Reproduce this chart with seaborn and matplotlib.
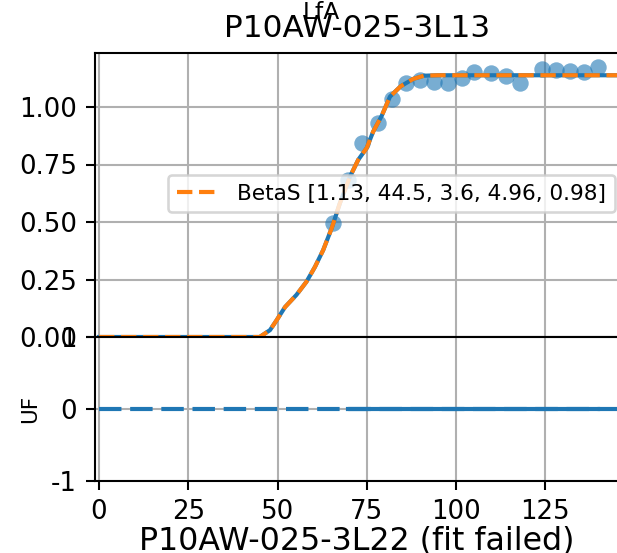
import matplotlib
matplotlib.use("Agg")
import matplotlib.pyplot as plt
import seaborn as sns
import pandas as pd

# ---- data ----
lfa_x = [65.6, 69.8, 73.7, 78.2, 82.0, 86.1, 89.9, 93.9, 97.8, 101.8, 105.0,
         109.8, 114.0, 117.9, 124.0, 127.9, 131.9, 135.8, 139.8]
lfa_y = [0.494, 0.683, 0.842, 0.929, 1.033, 1.103, 1.116, 1.108, 1.103, 1.125,
         1.151, 1.147, 1.135, 1.103, 1.165, 1.161, 1.158, 1.151, 1.175]

fit_x = [0, 45, 47.9, 49.8, 52.1, 55.3, 58.1, 60.5, 62.8, 65.2, 67.5, 70.3,
         72.6, 75.0, 76.8, 79.2, 81.5, 84.5, 88.0, 91.0, 95.0, 150]
fit_y = [0, 0, 0.03, 0.074, 0.13, 0.183, 0.24, 0.305, 0.378, 0.474, 0.583,
         0.697, 0.77, 0.822, 0.893, 0.962, 1.045, 1.09, 1.122, 1.136, 1.138, 1.138]

uf_x = [69.8, 73.7, 78.2, 82.0, 86.1, 89.9, 93.9, 97.8, 101.8, 105.0,
        109.8, 114.0, 117.9, 124.0, 127.9, 131.9, 135.8, 139.8]
uf_y = [0.0] * len(uf_x)
uf_fit_x = [0, 150]
uf_fit_y = [0.0, 0.0]

top_title = "P10AW-025-3L13"
col_title = "LfA"
bottom_xlabel = "P10AW-025-3L22 (fit failed)"
legend_label = "BetaS [1.13, 44.5, 3.6, 4.96, 0.98]"
top_yticks = [0.0, 0.25, 0.5, 0.75, 1.0]
bottom_yticks = [-1, 0, 1]
xticks = [0, 25, 50, 75, 100, 125]

plt.rcParams["axes.unicode_minus"] = False

DPI = 187
W, H = 617, 553
fig = plt.figure(figsize=(W / DPI, H / DPI), dpi=DPI)

left = 95 / W
right = 619 / W
ax1 = fig.add_axes([left, (H - 337) / H, right - left, (337 - 53) / H])
ax2 = fig.add_axes([left, (H - 481) / H, right - left, (481 - 337) / H], sharex=ax1)

blue = "#1f77b4"
orange = "#ff7f0e"

df_pts = pd.DataFrame({"x": lfa_x, "y": lfa_y})
df_fit = pd.DataFrame({"x": fit_x, "y": fit_y})

sns.scatterplot(data=df_pts, x="x", y="y", ax=ax1, color=blue, alpha=0.6,
                s=40, linewidth=0, zorder=2)
sns.lineplot(data=df_fit, x="x", y="y", ax=ax1, color=blue, lw=1.6,
             estimator=None, sort=False, zorder=3)
sns.lineplot(data=df_fit, x="x", y="y", ax=ax1, color=orange, lw=1.6,
             linestyle="--", estimator=None, sort=False, zorder=4,
             label=legend_label)

df_uf = pd.DataFrame({"x": uf_x, "y": uf_y})
df_uff = pd.DataFrame({"x": uf_fit_x, "y": uf_fit_y})
sns.lineplot(data=df_uff, x="x", y="y", ax=ax2, color=blue, lw=1.6,
             dashes=False, estimator=None, sort=False, zorder=3)
ax2.lines[-1].set_dashes((5.4, 2.1))
sns.lineplot(data=df_uf, x="x", y="y", ax=ax2, color=blue, lw=1.6,
             estimator=None, sort=False, zorder=4)

x0 = -4 / 3.57
x1 = (619 - 99) / 3.57
ax1.set_xlim(x0, x1)
ax1.set_ylim(0, (337 - 53) / 230)
ax2.set_ylim(-1, 1)

for ax in (ax1, ax2):
    ax.grid(True, color="#b0b0b0", lw=0.8)
    ax.set_axisbelow(True)
    ax.tick_params(labelsize=10)

ax1.set_yticks(top_yticks)
ax1.set_yticklabels([f"{v:.2f}" for v in top_yticks])
ax1.tick_params(axis="x", labelbottom=False)
ax1.set_xlabel("")
ax1.set_ylabel("")
ax1.set_title(top_title, fontsize=12)

ax2.set_yticks(bottom_yticks)
ax2.set_yticklabels([str(v) for v in bottom_yticks])
ax2.set_xticks(xticks)
ax2.set_xticklabels([str(v) for v in xticks])
ax2.set_xlabel(bottom_xlabel, fontsize=12.2, labelpad=0)
ax2.set_ylabel("UF", fontsize=8.33)

ax1.legend(loc="upper left", bbox_to_anchor=(168 / W, 1 - 175 / H),
           bbox_transform=fig.transFigure, borderaxespad=0, fontsize=8.33)

fig.text(321 / W, 1 - 19 / H, col_title, ha="center", va="baseline", fontsize=9)

fig.savefig("out.png", dpi=DPI)
